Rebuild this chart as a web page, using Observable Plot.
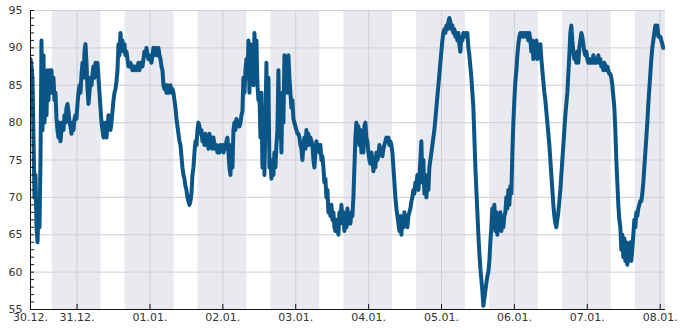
<!DOCTYPE html>
<html>
<head>
<meta charset="utf-8">
<script src="https://cdn.jsdelivr.net/npm/d3@7"></script>
<script src="https://cdn.jsdelivr.net/npm/@observablehq/plot@0.6"></script>
<style>
  html, body { margin: 0; padding: 0; background: #ffffff; }
  #chart { width: 685px; height: 330px; }
</style>
</head>
<body>
<div id="chart"></div>
<script>
// ---- data ----
const seriesStart = "2023-12-30T08:40:00Z";
const domainEnd = "2024-01-08T01:45:00Z";
const sampleMinutes = 19.75;

const humidity = [
  88.5, 87.5, 86, 78, 70, 73, 66, 64, 68, 66,
  75, 91, 79, 89, 80, 84, 81, 87, 83, 87,
  84, 87, 84, 86, 83, 84, 80.5, 79, 78, 80,
  77.5, 79, 80, 79, 81, 80, 82, 82.5, 81.5, 80,
  79.5, 78.5, 80, 79, 80.5, 81, 80.5, 82.5, 84, 85,
  84, 86.5, 88, 86, 89.5, 90.5, 88, 84.5, 82.5, 84,
  86, 85, 86.5, 87.5, 86, 88, 87.5, 88, 86, 84,
  82, 80, 79, 78, 80, 79, 78, 79.5, 81, 80,
  79, 80, 81.5, 83, 84, 84.5, 85.5, 87, 90.5, 89,
  92, 90, 91, 89.5, 90.5, 89, 89.5, 88.5, 87.5, 87.5,
  88, 87.5, 87, 87.5, 87.5, 87, 87, 87.5, 88, 87,
  88, 87.5, 87.5, 88.5, 89.5, 89, 90, 89, 88.5, 89,
  88.5, 88, 89, 90, 89, 90, 89.5, 89, 90, 89,
  88.5, 87.5, 87, 85, 84.5, 85, 84, 85, 84, 84.5,
  85, 84, 84.5, 84, 83, 82, 80.5, 79.5, 78.5, 77.5,
  77, 75.5, 74, 73, 72.5, 71.5, 71, 70, 69.5, 69,
  69.5, 70.5, 73, 74, 76, 77.5, 77, 79, 80, 79.5,
  78.5, 79, 77.5, 78, 77, 78.5, 77, 78, 76.5, 78.5,
  77, 78, 76.5, 78, 77, 76.5, 77, 76, 76.5, 76,
  77, 76.5, 77, 76, 77, 76.5, 77.5, 78, 76, 74,
  73, 77, 74, 79, 80, 79, 80.5, 79.5, 80, 79.5,
  80, 81, 81.5, 86, 84, 87, 88.5, 86, 91, 84,
  90.5, 86, 89, 85, 92, 87, 91, 85, 83, 84,
  78, 84, 74, 82, 73, 80, 88, 78, 86, 74,
  75, 72.5, 75, 73, 76, 74, 77, 79, 87, 78,
  82, 76, 84, 80, 89, 86, 88, 84, 89, 86,
  84, 82, 83, 80.5, 80, 79.5, 79, 78.5, 78.5, 78,
  77, 76.5, 75, 77, 78, 76.5, 79, 77, 78.5, 77,
  78, 77.5, 77, 75, 74, 76, 77.5, 76.5, 77, 76,
  77, 75, 75.5, 74, 72, 72.5, 70, 71, 68, 69,
  67.5, 69, 67, 68, 66, 65.5, 67, 66, 65, 68,
  66.5, 69, 67, 68, 65.5, 67, 66, 68.5, 66.5, 67,
  66.5, 68, 67.5, 70, 74, 78, 80, 78, 79.5, 77,
  79, 76, 77.5, 76, 79.5, 80, 78, 77.5, 76, 75,
  74.5, 76, 75, 73.5, 75, 74, 76, 75, 75.5, 77,
  76, 76.5, 75.5, 76.5, 77, 77.5, 78, 77.5, 78, 77,
  77.5, 77, 76, 74, 72, 70, 68.5, 67.5, 66.5, 65.5,
  67.5, 65, 67, 66, 68, 66.5, 67.5, 66, 67.5, 68,
  68.5, 69.5, 70, 71, 70.5, 72, 71.5, 73, 71, 72.5,
  75, 77.5, 72, 75, 70.5, 73, 70, 72.5, 71, 74,
  75, 76, 77, 78, 79, 80.5, 82, 83.5, 85, 86.5,
  88, 89.5, 91, 92, 92.5, 92, 93, 92.5, 93.5, 94,
  93.5, 92.5, 93, 92, 92.5, 91.5, 92, 91, 92, 90.5,
  89.5, 91.5, 91, 92, 91.5, 92, 91.5, 92, 90, 89,
  87.5, 86, 84, 82, 78, 74, 71, 68, 65, 62.5,
  60.5, 59, 57.5, 55.5, 56.5, 57.5, 58.5, 59.5, 60, 61.5,
  64, 66, 68.5, 66, 69, 65.5, 68, 65, 67.5, 66,
  68, 65.5, 67, 66, 67.5, 68, 70, 68.5, 71, 69,
  71.5, 70.5, 76, 80, 83, 85.5, 87, 89, 90.5, 91.5,
  92, 91.5, 92, 91.5, 92, 91.5, 92, 92, 91, 92,
  91, 89.5, 91, 88.5, 90.5, 89, 91, 88.5, 90, 89,
  90.5, 88.5, 87, 85.5, 84, 83, 81.5, 80, 78.5, 77,
  75, 73, 71, 69, 67.5, 66.5, 66, 67, 68, 69.5,
  71, 73, 75, 77, 79, 81, 82.5, 84, 86.5, 89,
  92, 93, 91, 89.5, 88.5, 89, 88, 89.5, 88, 90,
  91, 92, 91.5, 90.5, 89.5, 89, 89.5, 88.5, 88, 88.5,
  88, 88.5, 88, 89, 88, 88.5, 88, 88.5, 89, 88,
  88.5, 87.5, 88, 87, 88, 87.5, 87, 87.5, 87, 86.5,
  86.5, 86, 85, 83.5, 82, 79, 75, 72, 69, 67,
  66, 63, 65, 62, 64.5, 61.5, 64, 61, 63.5, 62,
  64, 61.5, 63, 65, 67, 66, 68, 67.5, 68.5, 69,
  69.5, 69.5, 70.5, 72, 74, 76, 78, 80, 82.5, 84.5,
  86.5, 88.5, 90, 91, 92, 93, 92.5, 93, 91.5, 91.5,
  91.5, 91, 90.5, 90
];

const nightStarts = [
  "2023-12-30T15:50:00Z", "2023-12-31T15:50:00Z", "2024-01-01T15:50:00Z",
  "2024-01-02T15:50:00Z", "2024-01-03T15:50:00Z", "2024-01-04T15:50:00Z",
  "2024-01-05T15:50:00Z", "2024-01-06T15:50:00Z", "2024-01-07T15:50:00Z"
];
const nightEnds = [
  "2023-12-31T07:55:00Z", "2024-01-01T07:55:00Z", "2024-01-02T07:55:00Z",
  "2024-01-03T07:55:00Z", "2024-01-04T07:55:00Z", "2024-01-05T07:55:00Z",
  "2024-01-06T07:55:00Z", "2024-01-07T07:55:00Z", "2024-01-08T07:55:00Z"
];

const dayTicks = [
  "2023-12-31", "2024-01-01", "2024-01-02", "2024-01-03", "2024-01-04",
  "2024-01-05", "2024-01-06", "2024-01-07", "2024-01-08"
];
const yLabels = [55, 60, 65, 70, 75, 80, 85, 90, 95];
const yMinorTicks = d3.range(55, 96, 1);

// ---- build ----
const start = new Date(seriesStart);
const end = new Date(domainEnd);
const data = humidity.map((v, i) => ({ t: new Date(+start + i * sampleMinutes * 60000), v }));
const nights = nightStarts.map((s, i) => ({ start: new Date(s), end: new Date(nightEnds[i]) }));
const ticks = dayTicks.map(d => new Date(d + "T00:00:00Z"));
const fmt = d3.utcFormat("%d.%m.");

const W = 685, H = 330, ML = 30, MR = 20, MT = 10, MB = 21;

const chart = Plot.plot({
  width: W,
  height: H,
  marginLeft: ML,
  marginRight: MR,
  marginTop: MT,
  marginBottom: MB,
  style: { fontFamily: "DejaVu Sans", fontSize: "11px", color: "#333", background: "#ffffff", overflow: "visible" },
  x: { type: "utc", domain: [start, end], label: null },
  y: { domain: [55, 95], label: null },
  marks: [
    Plot.rect(nights, { x1: "start", x2: "end", fill: "#e9eaf0", clip: true }),
    Plot.gridY(yLabels.filter(d => d > 55), { stroke: "#cfcfd4", strokeOpacity: 1 }),
    Plot.gridX(ticks, { stroke: "#cfcfd4", strokeOpacity: 1 }),
    Plot.line(data, { x: "t", y: "v", stroke: "#0b5686", strokeWidth: 4, clip: true }),
    Plot.ruleX([start], { stroke: "#111" }),
    Plot.ruleY([55], { stroke: "#111" }),
    Plot.ruleY(yMinorTicks, { y: d => d, insetRight: W - ML - MR - 4, stroke: "#111" }),
    Plot.ruleX(ticks, { x: d => d, insetTop: H - MT - MB - 5, stroke: "#111" }),
    Plot.axisY(yLabels, { tickSize: 0, tickPadding: 8, fill: "#333", label: null }),
    Plot.axisX([start, ...ticks], { tickSize: 0, tickPadding: 4, tickFormat: fmt, fill: "#333", label: null })
  ]
});
document.getElementById("chart").appendChild(chart);
</script>
</body>
</html>
